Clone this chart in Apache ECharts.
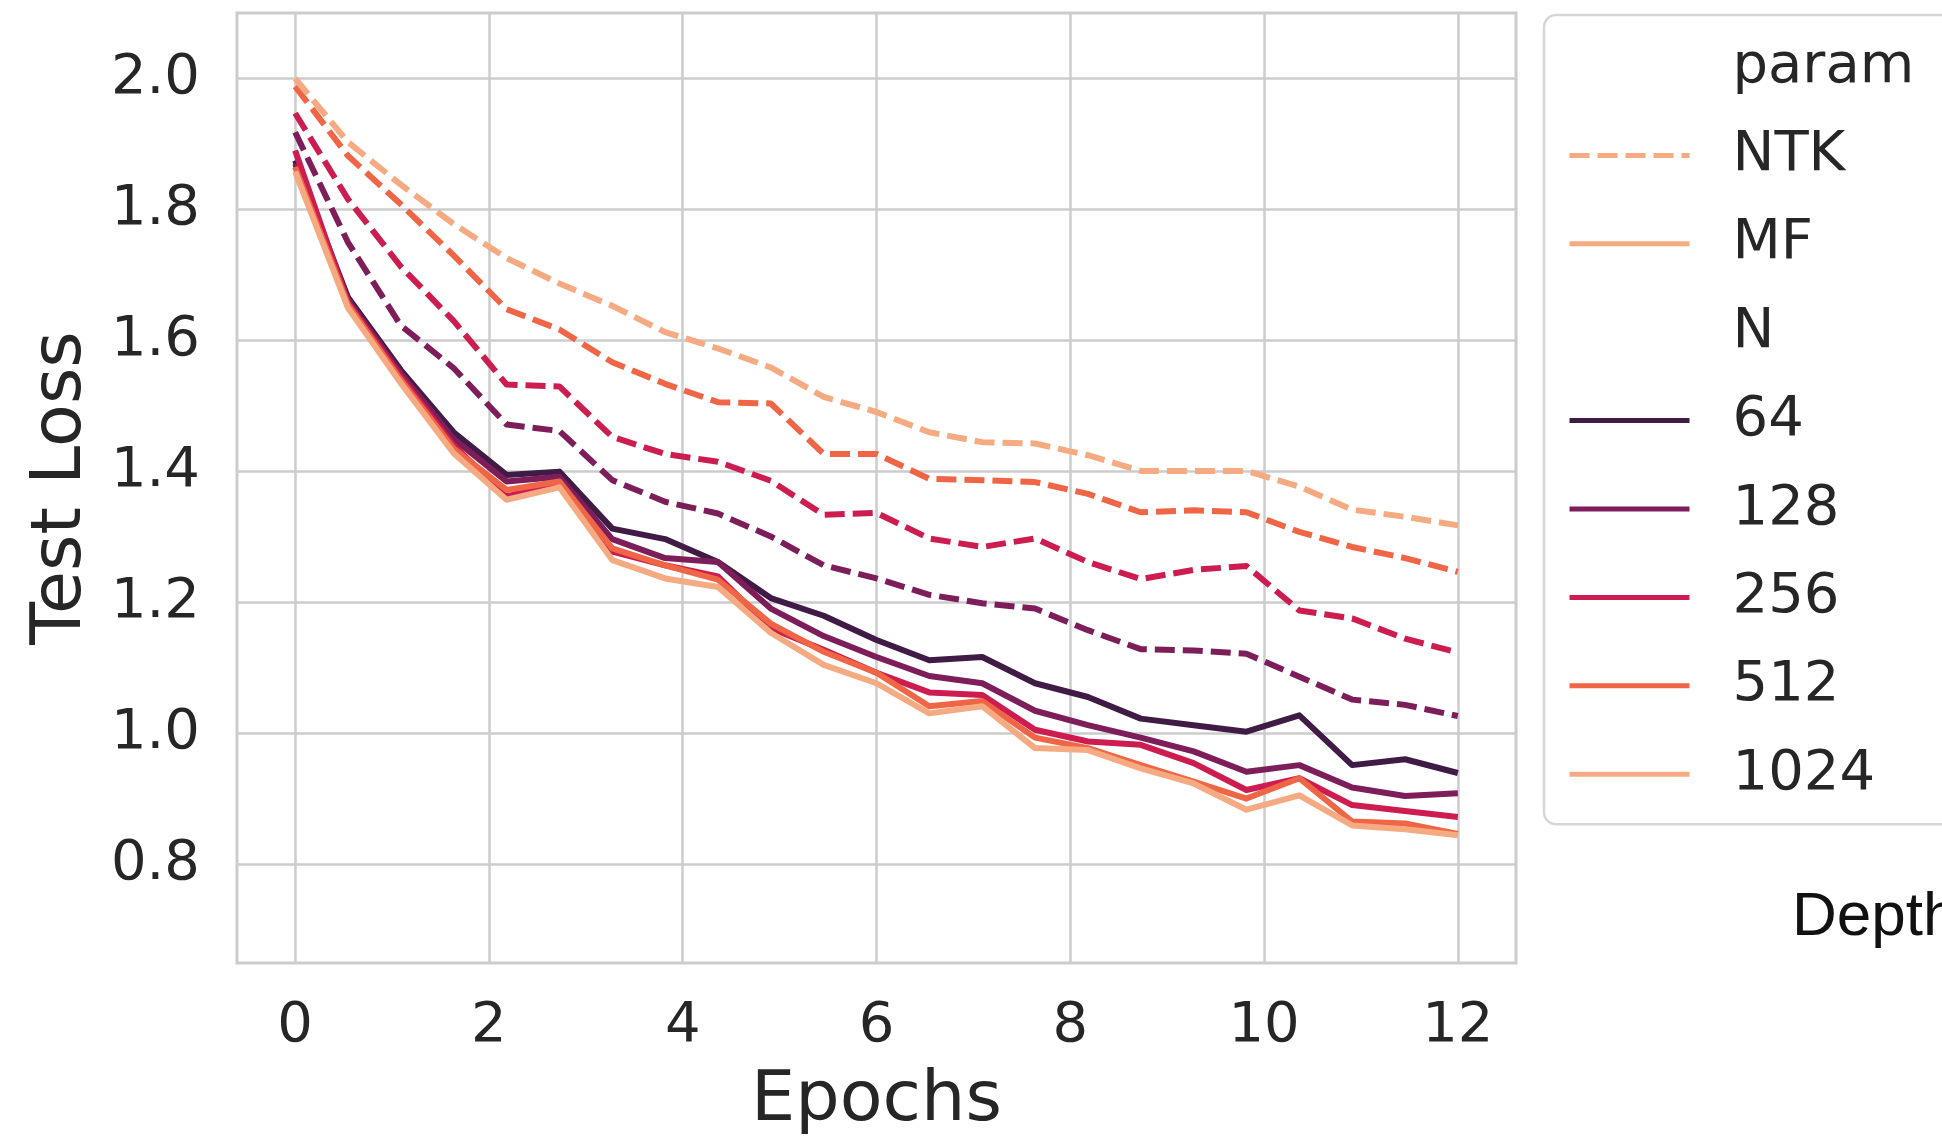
<!DOCTYPE html>
<html>
<head>
<meta charset="utf-8">
<script src="https://cdn.jsdelivr.net/npm/echarts@6/dist/echarts.min.js"></script>
<style>
  html, body { margin: 0; padding: 0; background: #ffffff; }
  #chart { width: 1942px; height: 1137px; }
</style>
</head>
<body>
<div id="chart"></div>
<script>
// ---- data ----
const epochs = [0, 0.545, 1.091, 1.636, 2.182, 2.727, 3.273, 3.818, 4.364, 4.909, 5.455, 6.0,
  6.545, 7.091, 7.636, 8.182, 8.727, 9.273, 9.818, 10.364, 10.909, 11.455, 12.0];

// MF parameterisation (solid lines)
const mf64   = [1.875, 1.666, 1.555, 1.460, 1.395, 1.400, 1.313, 1.297, 1.262, 1.207, 1.180, 1.143, 1.112, 1.117, 1.077, 1.056, 1.023, 1.013, 1.003, 1.028, 0.952, 0.961, 0.940];
const mf128  = [1.870, 1.662, 1.550, 1.450, 1.385, 1.392, 1.297, 1.268, 1.262, 1.191, 1.149, 1.117, 1.088, 1.077, 1.035, 1.013, 0.994, 0.973, 0.942, 0.952, 0.918, 0.905, 0.909];
const mf256  = [1.890, 1.658, 1.545, 1.440, 1.362, 1.382, 1.278, 1.257, 1.240, 1.161, 1.128, 1.093, 1.063, 1.059, 1.006, 0.988, 0.983, 0.955, 0.914, 0.932, 0.891, 0.882, 0.873];
const mf512  = [1.865, 1.655, 1.540, 1.435, 1.372, 1.385, 1.283, 1.257, 1.235, 1.168, 1.125, 1.093, 1.042, 1.050, 0.994, 0.978, 0.952, 0.927, 0.901, 0.932, 0.866, 0.863, 0.847];
const mf1024 = [1.858, 1.650, 1.535, 1.428, 1.357, 1.376, 1.265, 1.237, 1.224, 1.154, 1.105, 1.077, 1.031, 1.042, 0.978, 0.975, 0.947, 0.924, 0.884, 0.906, 0.860, 0.854, 0.845];

// NTK parameterisation (dashed lines)
const ntk128  = [1.918, 1.750, 1.623, 1.558, 1.472, 1.462, 1.387, 1.354, 1.336, 1.301, 1.257, 1.237, 1.212, 1.199, 1.191, 1.158, 1.129, 1.127, 1.122, 1.087, 1.052, 1.044, 1.027];
const ntk256  = [1.947, 1.816, 1.713, 1.630, 1.533, 1.530, 1.453, 1.427, 1.415, 1.386, 1.334, 1.337, 1.298, 1.285, 1.298, 1.262, 1.236, 1.250, 1.256, 1.188, 1.176, 1.145, 1.124];
const ntk512  = [1.988, 1.882, 1.808, 1.730, 1.648, 1.617, 1.567, 1.534, 1.506, 1.504, 1.427, 1.427, 1.389, 1.387, 1.384, 1.366, 1.338, 1.341, 1.338, 1.308, 1.285, 1.268, 1.247];
const ntk1024 = [2.000, 1.903, 1.838, 1.778, 1.726, 1.687, 1.653, 1.613, 1.588, 1.559, 1.514, 1.491, 1.460, 1.445, 1.443, 1.425, 1.401, 1.401, 1.401, 1.377, 1.342, 1.331, 1.318];

const xTicks = [0, 2, 4, 6, 8, 10, 12];
const yTicks = [0.8, 1.0, 1.2, 1.4, 1.6, 1.8, 2.0];
const legendNames = ['param', 'NTK', 'MF', 'N', '64', '128', '256', '512', '1024'];

// ---- styling ----
const colors = { '64': '#3f1b46', '128': '#7d1e5a', '256': '#cc1c50', '512': '#ef6545', '1024': '#f6aa82' };
const FONT = 'DejaVu Sans';
const TXT = '#262626';
const GRID = '#cccccc';
const LW = 6;
const DASH = [20, 8];

function pts(arr) { return epochs.map((x, i) => [x, arr[i]]); }
function lineSeries(name, arr, color, dashed) {
  return {
    name: name, type: 'line', data: pts(arr), symbol: 'none', showSymbol: false, clip: false,
    silent: true, z: dashed ? 2 : 3,
    lineStyle: { color: color, width: LW, type: dashed ? DASH : 'solid', cap: 'butt', join: 'round' },
    itemStyle: { color: color }
  };
}
function dummy(name, color, dashed, hidden) {
  return {
    name: name, type: 'line', data: [], symbol: 'none', showSymbol: false,
    lineStyle: { color: color, width: LW, type: dashed ? DASH : 'solid', opacity: hidden ? 0 : 1 },
    itemStyle: { color: color }
  };
}

const series = [
  dummy('param', '#ffffff', false, true),
  dummy('NTK', colors['1024'], true, false),
  dummy('MF', colors['1024'], false, false),
  dummy('N', '#ffffff', false, true),
  lineSeries('NTK-128', ntk128, colors['128'], true),
  lineSeries('NTK-256', ntk256, colors['256'], true),
  lineSeries('NTK-512', ntk512, colors['512'], true),
  lineSeries('NTK-1024', ntk1024, colors['1024'], true),
  lineSeries('64', mf64, colors['64'], false),
  lineSeries('128', mf128, colors['128'], false),
  lineSeries('256', mf256, colors['256'], false),
  lineSeries('512', mf512, colors['512'], false),
  lineSeries('1024', mf1024, colors['1024'], false)
];

const chart = echarts.init(document.getElementById('chart'), null, { renderer: 'canvas' });
chart.setOption({
  animation: false,
  backgroundColor: '#ffffff',
  grid: {
    left: 237, top: 13, width: 1279, height: 950,
    outerBoundsMode: 'none', containLabel: false,
    show: true, borderColor: GRID, borderWidth: 3, backgroundColor: 'transparent'
  },
  xAxis: {
    type: 'value', min: -0.6, max: 12.6,
    name: 'Epochs', nameLocation: 'middle', nameGap: 104,
    nameTextStyle: { fontFamily: FONT, fontSize: 70, color: TXT },
    axisLine: { show: false },
    axisTick: { show: false, customValues: xTicks },
    axisLabel: { customValues: xTicks, fontFamily: FONT, fontSize: 56, color: TXT, margin: 35,
      formatter: v => String(v) },
    splitLine: { show: true, lineStyle: { color: GRID, width: 2.5 } }
  },
  yAxis: {
    type: 'value', min: 0.65, max: 2.1,
    name: 'Test Loss', nameLocation: 'middle', nameGap: 140,
    nameTextStyle: { fontFamily: FONT, fontSize: 70, color: TXT },
    axisLine: { show: false },
    axisTick: { show: false, customValues: yTicks },
    axisLabel: { customValues: yTicks, fontFamily: FONT, fontSize: 56, color: TXT, margin: 37,
      formatter: v => v.toFixed(1) },
    splitLine: { show: true, lineStyle: { color: GRID, width: 2.5 } }
  },
  legend: {
    orient: 'vertical', left: 1544, top: 15,
    data: legendNames,
    selectedMode: false,
    itemWidth: 120, itemHeight: 20, itemGap: 28.4,
    padding: [22, 40, 20, 23],
    borderColor: '#d6d6d6', borderWidth: 2.5, borderRadius: 12,
    backgroundColor: '#ffffff',
    itemStyle: { opacity: 0, borderWidth: 0 },
    lineStyle: { width: 5 },
    textStyle: { fontFamily: FONT, fontSize: 56, color: TXT, lineHeight: 60, padding: [0, 0, 0, 38] }
  },
  graphic: [{
    type: 'text', left: 1792, top: 887, silent: true,
    style: { text: 'Depth', font: '62px "Liberation Sans"', fill: '#111111' }
  }],
  series: series
});
</script>
</body>
</html>
